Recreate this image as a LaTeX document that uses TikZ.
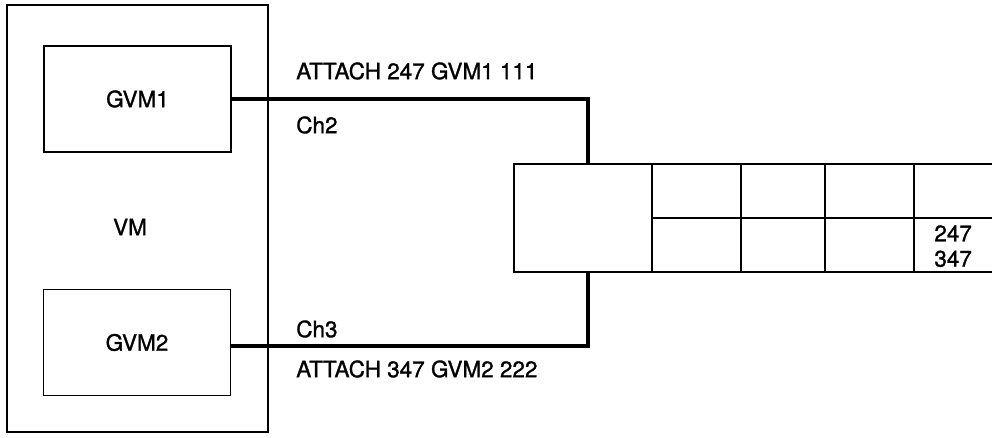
\documentclass[tikz,border=0pt]{standalone}
\usepackage{fontspec}
\setmainfont[FakeBold=1.2,BoldFont={TeX Gyre Heros}]{TeX Gyre Heros}
\usetikzlibrary{positioning}

\begin{document}
\begin{tikzpicture}[
  x=0.025cm, y=-0.025cm,
  every node/.style={font=\fontsize{16}{18}\selectfont\bfseries},
  frame/.style={draw, line width=1.1pt, inner sep=0pt, outer sep=0pt},
  gvmbox/.style={frame, minimum width=4.675cm, minimum height=2.65cm},
  cell/.style={frame, minimum height=2.7cm},
  link/.style={line width=2.8pt},
  lbl/.style={anchor=west, inner sep=0pt},
]
\useasboundingbox (0,0) rectangle (992,438);
\clip (0,0) rectangle (992,438);

% virtual machine with its two guests
\node[frame, minimum width=6.525cm, minimum height=10.675cm] (vm) at (137.5,218.5) {};
\node[gvmbox] (gvm1) at (137.5,99) {GVM1};
\node[gvmbox] (gvm2) at (137,342.5) {GVM2};
\node[inner sep=0pt] (vmname) at (130,227) {VM};

% control unit row
\node[cell, minimum width=3.45cm] (ctl) at (583,218) {};
\node[cell, minimum width=2.225cm, right=0pt of ctl] (c1) {};
\node[cell, minimum width=2.1cm, right=0pt of c1] (c2) {};
\node[cell, minimum width=2.225cm, right=0pt of c2] (c3) {};
\node[cell, minimum width=2.4cm, right=0pt of c3] (c4) {};
\draw[line width=1.1pt] (c1.west) -- (c4.east);
\node[anchor=south west, align=left, inner sep=0pt] (ids)
  at ([xshift=0.5cm, yshift=0.12cm]c4.south west) {247\\347};

% channel paths
\draw[link] (gvm1.east) -| ([xshift=0.125cm]ctl.north);
\draw[link] ([yshift=-0.09cm]gvm2.east) -| ([xshift=0.125cm]ctl.south);

\node[lbl] (att1) at (296,71) {ATTACH 247 GVM1 111};
\node[lbl] (ch2) at (296,125) {Ch2};
\node[lbl] (ch3) at (296,329) {Ch3};
\node[lbl] (att2) at (296,369) {ATTACH 347 GVM2 222};
\end{tikzpicture}
\end{document}
